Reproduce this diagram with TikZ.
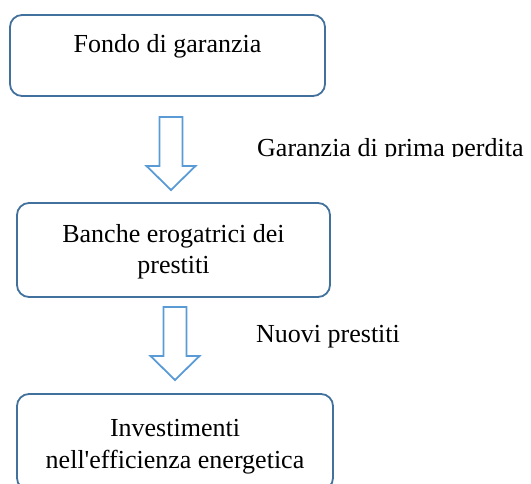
\documentclass[tikz,border=0pt]{standalone}
\usepackage{fontspec}
\setmainfont{Liberation Serif}
\definecolor{boxblue}{HTML}{41719C}
\definecolor{arrowblue}{HTML}{5B9BD5}

\begin{document}
\begin{tikzpicture}[x=1pt,y=-1pt,
    stepbox/.style={draw=boxblue,line width=1.8pt,rounded corners=12pt,
      inner sep=0pt,align=center,font=\fontsize{26}{32}\selectfont},
    hollow/.style={draw=arrowblue,line width=1.8pt,fill=white,line join=miter},
    flowlabel/.style={anchor=base west,inner sep=0pt,font=\fontsize{26}{32}\selectfont}]
\clip (0,0) rectangle (531,484);
\node[stepbox,minimum width=315pt,text height=38pt,text depth=43pt]
  (fondo) at (167.5,55.5) {Fondo di garanzia};
\node[stepbox,minimum width=313pt,text height=71pt,text depth=23pt]
  (banche) at (173.5,250) {Banche erogatrici dei\\prestiti};
\node[stepbox,minimum width=316pt,text height=74pt,text depth=22pt]
  (investimenti) at (175,442) {Investimenti\\nell\textquotesingle efficienza energetica};
% block arrows
\coordinate (garanziatop) at (171,117);
\coordinate (prestititop) at (175,307);
\foreach \top in {garanziatop,prestititop}
  \draw[hollow] (\top) ++(-11.5,0) -- ++(23,0) -- ++(0,49) -- ++(13,0)
    -- ++(-24.5,24) -- ++(-24.5,-24) -- ++(13,0) -- cycle;
\begin{scope}
  \clip (240,125) rectangle (531,157);
  \node[flowlabel] (garanzia) at (257,157) {Garanzia di prima perdita};
\end{scope}
\node[flowlabel] (prestiti) at (256,342) {Nuovi prestiti};
\end{tikzpicture}
\end{document}
